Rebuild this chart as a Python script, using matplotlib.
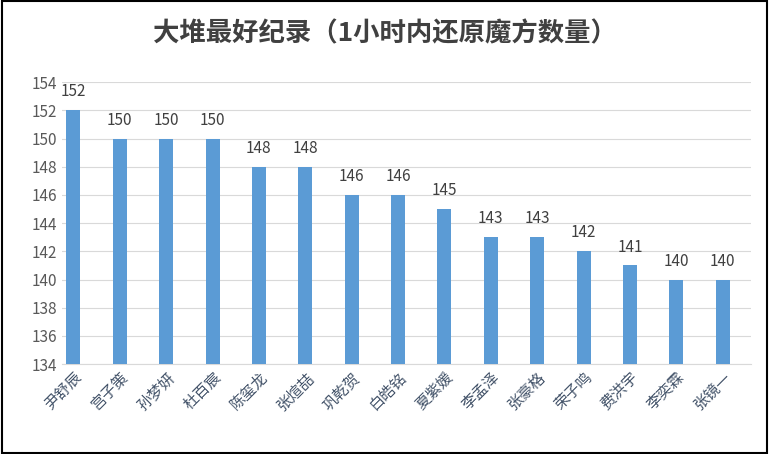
import matplotlib.pyplot as plt
from matplotlib.patches import Rectangle

plt.rcParams['font.family'] = ['Noto Sans CJK SC', 'DejaVu Sans']

names = ['尹舒辰', '宫子策', '孙梦妍', '杜百宸', '陈玺龙', '张煊喆', '巩乾贺', '白皓铭',
         '夏紫媛', '李孟泽', '张豪格', '荣子鸣', '费洪宇', '李奕霖', '张镜一']
scores = [152, 150, 150, 150, 148, 148, 146, 146, 145, 143, 143, 142, 141, 140, 140]

fig = plt.figure(figsize=(7.69, 4.54), dpi=100)
ax = fig.add_axes([0.081, 0.198, 0.895, 0.621])
x = range(len(names))
ax.bar(x, scores, width=0.3, color='#5B9BD5', zorder=3)
for i, v in zip(x, scores):
    ax.text(i, v + 0.7, str(v), ha='center', va='bottom', fontsize=11, color='#404040')
ax.set_ylim(134, 154)
ax.set_xlim(-0.24, 14.6)
ax.set_yticks(range(134, 155, 2))
ax.tick_params(axis='y', length=0, labelsize=11, labelcolor='#595959')
ax.tick_params(axis='x', length=0)
ax.set_xticks(list(x))
ax.set_xticklabels(names, rotation=45, ha='right', rotation_mode='anchor',
                   fontsize=11, color='#44546A')
ax.grid(axis='y', color='#D9D9D9', linewidth=0.8, zorder=0)
for s in ['top', 'right', 'left']:
    ax.spines[s].set_visible(False)
ax.spines['bottom'].set_color('#D9D9D9')
fig.text(0.5, 0.925, '大堆最好纪录（1小时内还原魔方数量）', ha='center', va='center',
         fontsize=19, fontweight='bold', color='#404040')
fig.patches.append(Rectangle((0.002, 0.003), 0.996, 0.994, transform=fig.transFigure,
                             fill=False, edgecolor='black', linewidth=1.5))
fig.savefig('out.png', dpi=100)
